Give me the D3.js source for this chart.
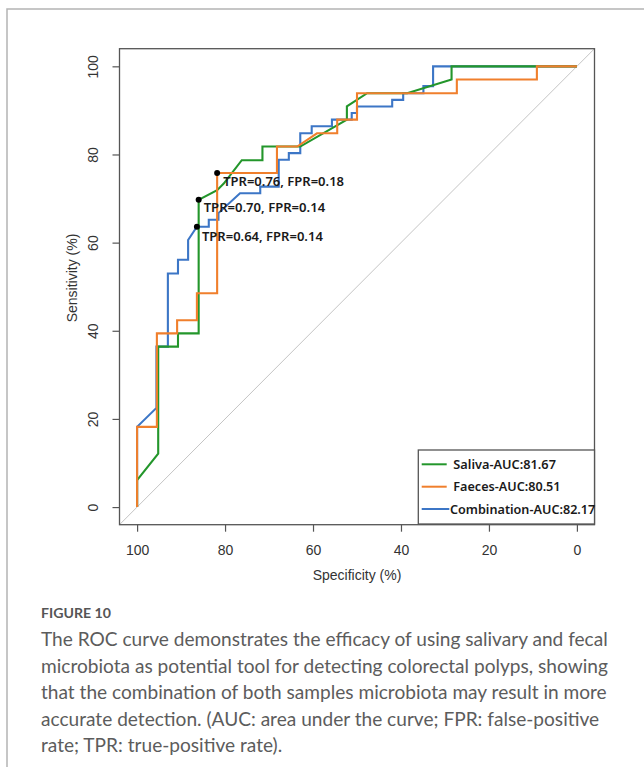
<!DOCTYPE html>
<html><head><meta charset="utf-8">
<script src="https://cdn.jsdelivr.net/npm/d3@7"></script>
<style>html,body{margin:0;padding:0;background:#fff;} svg{display:block}</style>
</head><body>
<svg id="c" width="644" height="767"></svg>
<script>
// ---- data (percent) ----
const specTicks = [100, 80, 60, 40, 20, 0];
const sensTicks = [0, 20, 40, 60, 80, 100];

const salivaSpec = [100, 100, 95.2, 95.2, 90.7, 90.7, 86.0, 86.0, 81.8, 80.3, 76.2, 71.5, 71.5, 62.9, 52.3, 52.3, 47.7, 38.6, 28.5, 28.5, 0];
const salivaSens = [0, 6.1, 12.1, 36.4, 36.4, 39.4, 39.4, 69.7, 71.9, 73.4, 78.7, 78.7, 81.8, 81.8, 87.9, 90.9, 93.9, 93.9, 97.0, 100, 100];

const faecesSpec = [100, 100, 95.5, 95.5, 90.9, 90.9, 86.4, 86.4, 81.8, 81.8, 68.2, 68.2, 63.6, 59.1, 54.5, 54.5, 50.0, 50.0, 27.3, 27.3, 9.1, 9.1, 0];
const faecesSens = [0, 18.2, 18.2, 39.4, 39.4, 42.4, 42.4, 48.5, 48.5, 75.8, 75.8, 81.8, 81.8, 84.8, 84.8, 87.9, 87.9, 93.9, 93.9, 97.0, 97.0, 100, 100];

const combSpec = [100, 100, 95.6, 95.6, 93.0, 93.0, 90.7, 90.7, 88.4, 88.4, 86.4, 83.7, 83.7, 81.5, 81.5, 76.6, 72.0, 72.0, 67.8, 67.8, 65.5, 65.5, 62.9, 62.9, 60.3, 60.3, 55.7, 55.7, 51.2, 51.2, 50.0, 50.0, 42.0, 42.0, 39.5, 39.5, 34.9, 34.9, 32.7, 32.7, 0];
const combSens = [0, 18.2, 22.5, 36.4, 36.4, 53.0, 53.0, 56.1, 56.1, 60.6, 63.6, 63.6, 65.2, 65.2, 66.7, 71.2, 71.2, 72.7, 72.7, 78.8, 78.8, 80.3, 80.3, 84.8, 84.8, 86.4, 86.4, 87.9, 87.9, 89.4, 89.4, 90.9, 90.9, 92.4, 92.4, 93.9, 93.9, 95.5, 95.5, 100, 100];

const seriesNames = ["Saliva-AUC:81.67", "Faeces-AUC:80.51", "Combination-AUC:82.17"];
const seriesColors = ["#23962b", "#f07f2c", "#3c76c6"];

const pointSpec = [81.8, 86.0, 86.4];
const pointSens = [75.8, 69.7, 63.6];
const pointLabels = ["TPR=0.76, FPR=0.18", "TPR=0.70, FPR=0.14", "TPR=0.64, FPR=0.14"];

const xTitle = "Specificity (%)";
const yTitle = "Sensitivity (%)";
const captionTitle = "FIGURE 10";
const captionLines = [
  "The ROC curve demonstrates the efficacy of using salivary and fecal",
  "microbiota as potential tool for detecting colorectal polyps, showing",
  "that the combination of both samples microbiota may result in more",
  "accurate detection. (AUC: area under the curve; FPR: false-positive",
  "rate; TPR: true-positive rate)."
];

// ---- layout ----
const svg = d3.select("#c");
const box = {l: 119.5, r: 594.5, t: 48.7, b: 524.7};
const x = d3.scaleLinear().domain([104, -4]).range([box.l, box.r]);
const y = d3.scaleLinear().domain([-4, 104]).range([box.b, box.t]);

function fit(sel, target) {
  const w = sel.node().getComputedTextLength();
  const fs = parseFloat(sel.attr("font-size"));
  const nfs = fs * target / w;
  sel.attr("font-size", nfs);
  return nfs;
}

// outer frame
svg.append("path").attr("d", "M7,767V9H644").attr("fill", "none")
  .attr("stroke", "#b4b4b4").attr("stroke-width", 1.5);

// diagonal
svg.append("line")
  .attr("x1", x(104)).attr("y1", y(-4)).attr("x2", x(-4)).attr("y2", y(104))
  .attr("stroke", "#c4c4c4").attr("stroke-width", 1);

// curves (blue under green under orange)
const line = d3.line().x(d => x(d[0])).y(d => y(d[1]));
const curves = [
  {spec: combSpec, sens: combSens, color: seriesColors[2]},
  {spec: salivaSpec, sens: salivaSens, color: seriesColors[0]},
  {spec: faecesSpec, sens: faecesSens, color: seriesColors[1]}
];
curves.forEach(c => {
  svg.append("path").datum(c.spec.map((s, i) => [s, c.sens[i]]))
    .attr("d", line).attr("fill", "none").attr("stroke", c.color)
    .attr("stroke-width", 2.1).attr("stroke-linejoin", "miter");
});

// box
svg.append("rect").attr("x", box.l).attr("y", box.t)
  .attr("width", box.r - box.l).attr("height", box.b - box.t)
  .attr("fill", "none").attr("stroke", "#555").attr("stroke-width", 1.3);

// axes
const axFont = "'Liberation Sans', Arial, sans-serif";
const gx = svg.append("g").attr("transform", `translate(0,${box.b})`)
  .call(d3.axisBottom(x).tickValues(specTicks).tickSize(7).tickFormat(d3.format("d")));
gx.select(".domain").remove();
gx.selectAll("line").attr("stroke", "#555").attr("stroke-width", 1.2);
gx.selectAll("text").attr("y", 30).attr("dy", null).attr("font-size", 14)
  .attr("font-family", axFont).attr("fill", "#333");

const gy = svg.append("g").attr("transform", `translate(${box.l},0)`)
  .call(d3.axisLeft(y).tickValues(sensTicks).tickSize(7).tickFormat(d3.format("d")));
gy.select(".domain").remove();
gy.selectAll("line").attr("stroke", "#555").attr("stroke-width", 1.2);
gy.selectAll("text").attr("x", null).attr("dy", null)
  .attr("transform", "translate(-21.5,0) rotate(-90)")
  .attr("text-anchor", "middle").attr("font-size", 14)
  .attr("font-family", axFont).attr("fill", "#333");

svg.append("text").attr("x", (box.l + box.r) / 2).attr("y", 580)
  .attr("text-anchor", "middle").attr("font-family", axFont).attr("font-size", 14)
  .attr("fill", "#333").text(xTitle);
svg.append("text").attr("transform", "translate(77,278) rotate(-90)")
  .attr("text-anchor", "middle").attr("font-family", axFont).attr("font-size", 14)
  .attr("fill", "#333").text(yTitle);

// highlighted points and labels
const lblFont = "'Noto Sans', 'Open Sans', sans-serif";
const lblOff = [[6, 8.5], [5, 7], [5, 9.5]];
const lblW = [121, 121.7, 121];
pointSpec.forEach((s, i) => {
  svg.append("circle").attr("cx", x(s)).attr("cy", y(pointSens[i])).attr("r", 3).attr("fill", "#000");
  const t = svg.append("text").attr("x", x(s) + lblOff[i][0]).attr("y", y(pointSens[i]) + lblOff[i][1])
    .attr("dominant-baseline", "central").attr("font-family", lblFont)
    .attr("font-size", 13).attr("font-weight", 600).attr("fill", "#1a1a1a").text(pointLabels[i]);
  fit(t, lblW[i]);
});

// legend
const lg = svg.append("g");
lg.append("rect").attr("x", 418.3).attr("y", 450).attr("width", box.r - 418.3).attr("height", 74)
  .attr("fill", "#fff").attr("stroke", "#555").attr("stroke-width", 1.3);
const legY = [464.3, 486.7, 509];
const legLineEnd = [446.7, 446.7, 449.3];
const legTextX = [453.3, 453.3, 450];
const legW = [102.7, 107.3, 145.5];
seriesNames.forEach((n, i) => {
  lg.append("line").attr("x1", 421.7).attr("x2", legLineEnd[i]).attr("y1", legY[i]).attr("y2", legY[i])
    .attr("stroke", seriesColors[i]).attr("stroke-width", 2);
  const t = lg.append("text").attr("x", legTextX[i]).attr("y", legY[i])
    .attr("dominant-baseline", "central").attr("font-family", lblFont)
    .attr("font-size", 13).attr("font-weight", 600).attr("fill", "#1a1a1a").text(n);
  fit(t, legW[i]);
});

// caption
const capFont = "Lato, 'Open Sans', sans-serif";
const ft = svg.append("text").attr("x", 41).attr("y", 612).attr("dominant-baseline", "central")
  .attr("font-family", capFont).attr("font-weight", 700).attr("font-size", 14)
  .attr("fill", "#555").text(captionTitle);
fit(ft, 70);
const capY = [638.5, 665, 691.5, 718, 744.5];
let capFs = null;
captionLines.forEach((l, i) => {
  const t = svg.append("text").attr("x", 41).attr("y", capY[i]).attr("dominant-baseline", "central")
    .attr("font-family", capFont).attr("font-size", capFs || 17).attr("fill", "#5c5c5c").text(l);
  if (i === 0) capFs = fit(t, 567);
});
</script>
</body></html>
